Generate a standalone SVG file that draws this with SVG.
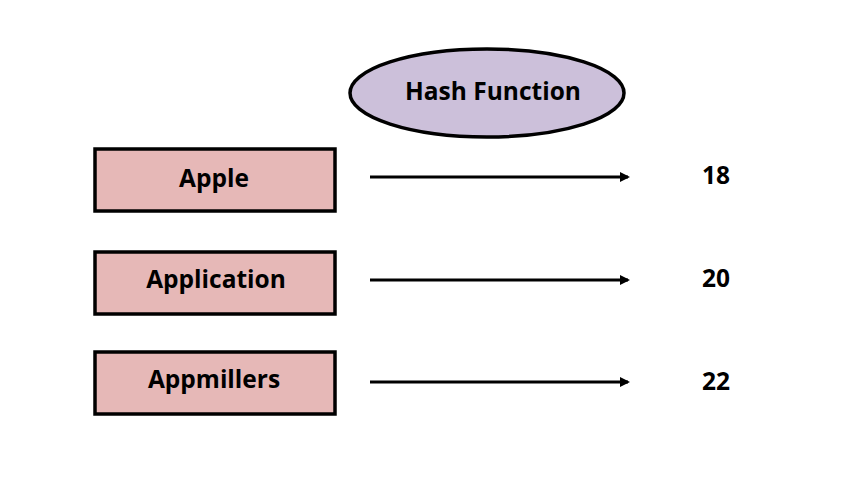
<svg xmlns="http://www.w3.org/2000/svg" width="855" height="481" viewBox="0 0 855 481">
<style>
.box{fill:#e6b8b7;stroke:#000;stroke-width:3.5}
.ell{fill:#ccc0da;stroke:#000;stroke-width:3.5}
.t{font-family:"Open Sans","Liberation Sans",sans-serif;font-weight:bold;font-size:24.5px;fill:#000;text-anchor:middle;dominant-baseline:central}
.c{stroke:#000;stroke-width:3;fill:none}
</style>
<defs>
<marker id="ah" markerWidth="10" markerHeight="10" refX="8" refY="5" orient="auto" markerUnits="userSpaceOnUse">
<path d="M0,0 L10,5 L0,10 Z" fill="#000"/>
</marker>
</defs>
<rect width="855" height="481" fill="#fff"/>
<g id="hash"><ellipse class="ell" cx="487" cy="93" rx="137" ry="44"/><text class="t" x="493" y="90">Hash Function</text></g>
<g id="apple"><rect class="box" x="95" y="149" width="240" height="62"/><text class="t" x="214" y="177">Apple</text></g>
<g id="application"><rect class="box" x="95" y="252" width="240" height="62"/><text class="t" x="216" y="278">Application</text></g>
<g id="appmillers"><rect class="box" x="95" y="352" width="240" height="62"/><text class="t" x="214" y="378">Appmillers</text></g>
<g id="v18"><text class="t" x="716" y="174">18</text></g>
<g id="v20"><text class="t" x="716" y="277">20</text></g>
<g id="v22"><text class="t" x="716" y="380">22</text></g>
<g id="connectors">
<line class="c" x1="370" y1="177" x2="628" y2="177" marker-end="url(#ah)"/>
<line class="c" x1="370" y1="280" x2="628" y2="280" marker-end="url(#ah)"/>
<line class="c" x1="370" y1="382" x2="628" y2="382" marker-end="url(#ah)"/>
</g>
</svg>
